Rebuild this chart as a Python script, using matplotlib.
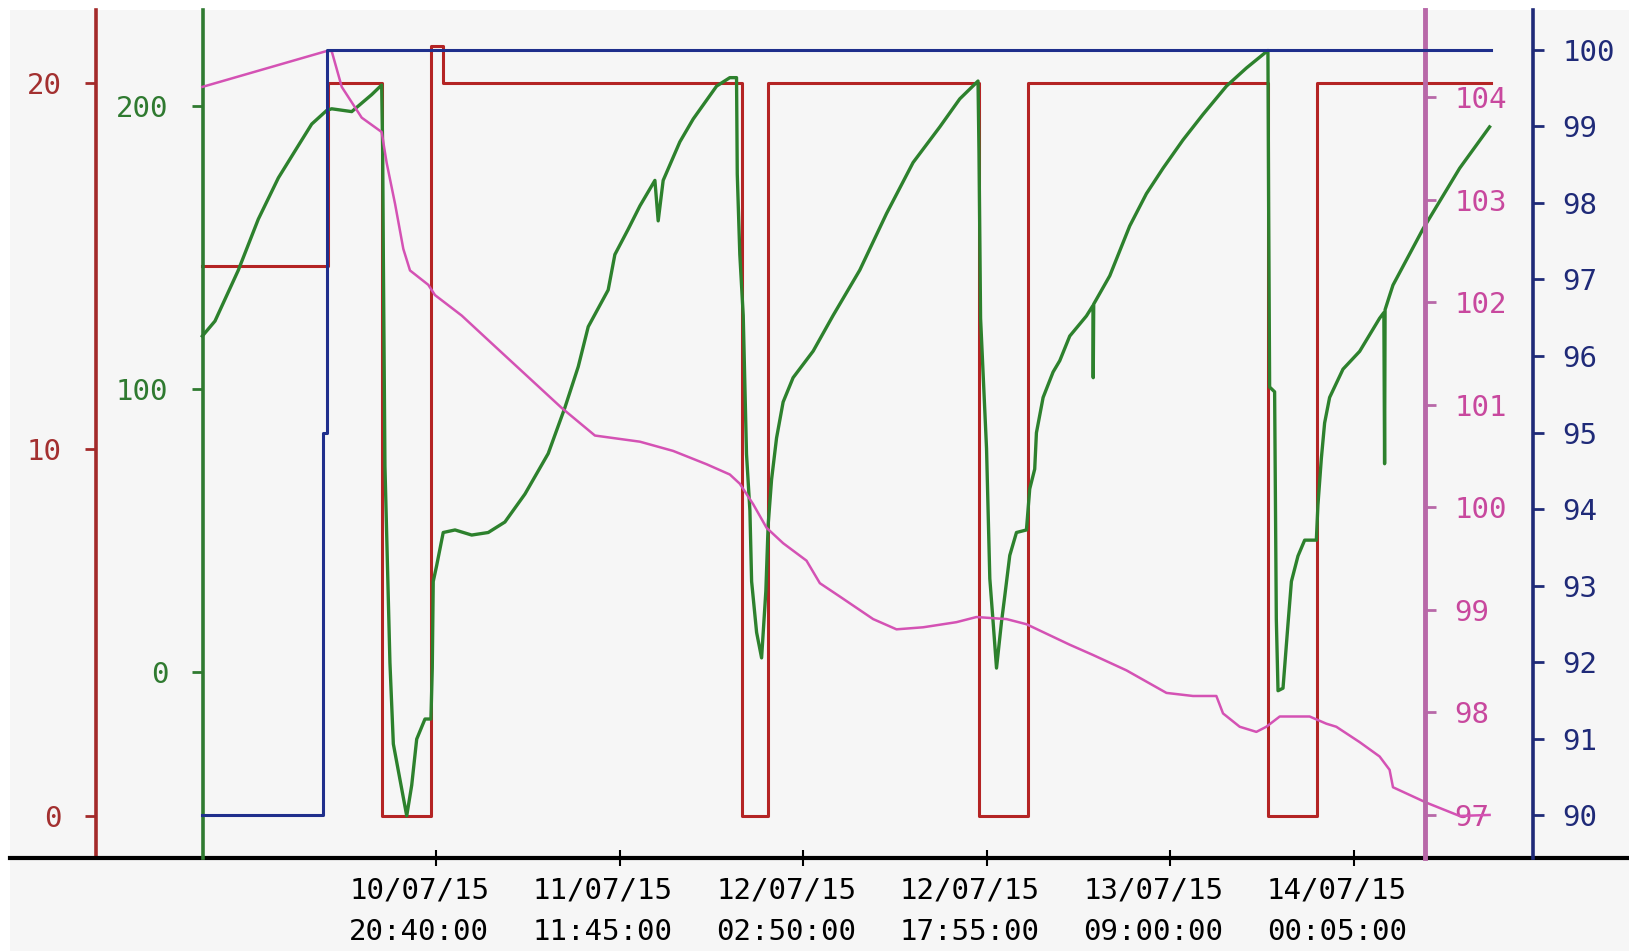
import datetime as dt

import matplotlib
matplotlib.use("Agg")
import matplotlib.pyplot as plt
import matplotlib.dates as mdates
import matplotlib.transforms as mtransforms
from matplotlib.patches import Rectangle

# hours since 10/07/2015 00:00
BASE = dt.datetime(2015, 7, 10)

# green: level
G_T = [1.43, 2.47, 4.39, 6.03, 7.68, 9.32, 10.42, 11.65, 12.06, 13.71, 15.35, 16.17,
       16.25, 16.31, 16.44, 16.85, 17.13, 18.23, 18.64, 19.05, 19.73, 20.22, 20.33,
       20.41, 20.69, 21.23, 22.20, 23.57, 24.93, 26.30, 27.95, 29.86, 31.23, 32.33,
       33.15, 34.79, 35.34, 36.44, 37.40, 38.63, 38.90, 39.31, 40.68, 41.78, 43.70,
       44.79, 45.34, 45.40, 45.61, 45.89, 46.16, 46.44, 46.58, 46.99, 47.40, 47.75,
       47.94, 48.22, 48.63, 49.17, 49.99, 51.64, 53.28, 55.47, 57.67, 59.85, 62.05,
       63.69, 65.19, 65.27, 65.40, 65.89, 66.16, 66.43, 66.71, 67.12, 67.39, 67.80,
       68.35, 69.17, 69.44, 69.85, 69.99, 70.54, 71.36, 71.91, 72.73, 74.10, 74.64,
       74.66, 74.70, 76.02, 77.66, 79.03, 80.40, 82.04, 83.68, 85.61, 87.25, 89.02,
       89.08, 89.16, 89.57, 89.71, 89.85, 90.26, 90.67, 90.95, 91.49, 92.04, 93.00,
       93.13, 93.41, 93.68, 94.09, 95.19, 96.56, 98.20, 98.55, 98.61, 98.65, 99.02,
       99.30, 101.76, 104.78, 107.24]
G_V = [118.7, 124, 142, 160, 174.6, 186, 193.6, 198.4, 199, 198, 204, 207.4,
       185.5, 145.7, 72.8, 3.3, -25.4, -50.8, -40, -23.7, -16.6, -16.6, 1.4,
       32, 37.6, 49.3, 50.2, 48.4, 49.3, 53, 62.9, 77.2, 93.4, 107.9,
       122, 135, 147.5, 156.5, 164.7, 173.7, 159.4, 173.7, 187.3, 195.4, 207,
       210, 210, 176, 147.5, 126, 77, 57, 32, 14, 5, 28.6,
       52, 68, 82.7, 95.4, 104, 113.4, 126, 142, 162, 180, 192.6,
       202.5, 208.8, 183.7, 125, 79, 33, 17.7, 1.4, 17.7, 26.9, 41.2,
       49.3, 50.2, 64.7, 71.7, 84.5, 97, 106, 110, 118.7, 125.8, 129.5,
       104, 130, 140, 157.6, 169, 178, 188, 197, 207, 213.4, 219.6,
       163.7, 100.7, 99, 18.7, -6.6, -5.7, 17, 32, 41, 46.6, 46.6,
       59, 75.4, 88, 97, 107, 113.3, 125, 127, 73.6, 128, 133,
       136.7, 156.5, 178, 192.6]

# red: on/off state (step changes)
R_T = [1.41, 11.78, 16.22, 20.22, 21.23, 45.75, 47.94, 65.28, 69.30, 89.02, 93.05, 107.32]
R_V = [15, 20, 0, 21, 20, 0, 20, 0, 20, 0, 20, 20]

# magenta: temperature-like trend
M_T = [1.43, 11.65, 12.06, 12.89, 14.53, 16.17, 16.58, 17.27, 17.95, 18.50, 20.00,
       20.55, 22.75, 25.48, 28.22, 30.96, 33.70, 37.40, 40.13, 42.88, 44.79, 45.61,
       46.71, 47.81, 49.17, 51.09, 52.19, 53.83, 56.57, 58.49, 60.68, 63.42, 65.06,
       67.53, 69.17, 72.73, 74.64, 77.39, 80.68, 82.86, 84.78, 85.33, 86.70, 88.07,
       88.89, 89.99, 92.45, 93.82, 94.64, 96.56, 98.20, 99.02, 99.30, 102.04, 104.78,
       107.24]
M_V = [104.1, 104.45, 104.45, 104.1, 103.8, 103.66, 103.36, 102.96, 102.52, 102.31,
       102.17, 102.07, 101.87, 101.57, 101.27, 100.97, 100.7, 100.64, 100.55, 100.42,
       100.32, 100.23, 100.03, 99.8, 99.65, 99.48, 99.26, 99.13, 98.91, 98.81, 98.83,
       98.88, 98.93, 98.91, 98.86, 98.66, 98.56, 98.41, 98.19, 98.16, 98.16, 97.99,
       97.86, 97.81, 97.86, 97.96, 97.96, 97.89, 97.86, 97.71, 97.57, 97.44, 97.27,
       97.12, 96.99, 97.0]

# blue: percentage (steps)
B_T = [1.41, 11.37, 11.70, 107.32]
B_V = [90, 95, 100, 100]

RED_TICKS = [0, 10, 20]
GREEN_TICKS = [0, 100, 200]
MAG_TICKS = [97, 98, 99, 100, 101, 102, 103, 104]
BLUE_TICKS = [90, 91, 92, 93, 94, 95, 96, 97, 98, 99, 100]

FIRST_TICK = dt.datetime(2015, 7, 10, 20, 40)
TICK_STEP = dt.timedelta(hours=15, minutes=5)
N_TICKS = 6

RED, RED_TXT, RED_LINE = "#a32a2a", "#a33030", "#b42424"
GREEN, GREEN_LINE = "#2f7a30", "#2d812d"
MAG, MAG_TXT, MAG_LINE = "#b868a8", "#c8489e", "#d452b4"
BLUE, BLUE_LINE = "#1f2a78", "#1f2f8c"
FONT = "DejaVu Sans Mono"
FS = 21


def times(hours):
    return [BASE + dt.timedelta(hours=h) for h in hours]


W, H = 1629, 951
fig = plt.figure(figsize=(W / 100, H / 100), dpi=100, facecolor="white")
fig.add_artist(Rectangle((10 / W, 0), 1, 1 - 10 / H, transform=fig.transFigure,
                         facecolor="#f6f6f6", edgecolor="none", zorder=-10))

ax = fig.add_axes([10 / W, (H - 858) / H, (W - 10) / W, 848 / H])
ax.set_facecolor("none")
axg = ax.twinx()
axm = ax.twinx()
axb = ax.twinx()

# data
ax.plot(times(R_T), R_V, drawstyle="steps-post", color=RED_LINE, lw=2.2)
axg.plot(times(G_T), G_V, color=GREEN_LINE, lw=2.4)
axm.plot(times(M_T), M_V, color=MAG_LINE, lw=1.8)
axb.plot(times(B_T), B_V, drawstyle="steps-post", color=BLUE_LINE, lw=2.2)

ax.set_xlim(BASE - dt.timedelta(hours=14.38), BASE + dt.timedelta(hours=118.7))
ax.set_ylim(-1.16, 21.99)
axg.set_ylim(-65.7, 233.9)
axm.set_ylim(96.58, 104.85)
axb.set_ylim(89.445, 100.516)

for a in (ax, axg, axm, axb):
    for s in a.spines.values():
        s.set_visible(False)

# x axis
ax.spines["bottom"].set_visible(True)
ax.spines["bottom"].set_color("black")
ax.spines["bottom"].set_linewidth(3)
ax.set_xticks([FIRST_TICK + i * TICK_STEP for i in range(N_TICKS)])
ax.xaxis.set_major_formatter(mdates.DateFormatter("%d/%m/%y\n%H:%M:%S"))
ax.tick_params(axis="x", direction="inout", length=11, width=1.5, pad=8,
               colors="black", labelsize=FS)
for lab in ax.get_xticklabels():
    lab.set_fontfamily(FONT)
    lab.set_linespacing(1.58)
offset = mtransforms.ScaledTranslation(-0.17, 0, fig.dpi_scale_trans)
for lab in ax.xaxis.get_majorticklabels():
    lab.set_transform(lab.get_transform() + offset)


def yaxis(a, side, pos, ticks, color, txt, lw, pad):
    sp = a.spines[side]
    sp.set_visible(True)
    sp.set_position(("axes", pos))
    sp.set_color(color)
    sp.set_linewidth(lw)
    a.yaxis.set_ticks_position(side)
    a.yaxis.set_label_position(side)
    a.set_yticks(ticks)
    a.tick_params(axis="y", direction="out", length=8, width=2, color=color,
                  labelcolor=txt, labelsize=FS, pad=pad)
    for lab in a.get_yticklabels():
        lab.set_fontfamily(FONT)


yaxis(ax, "left", 0.0534, RED_TICKS, RED, RED_TXT, 2.6, 17)
yaxis(axg, "left", 0.1192, GREEN_TICKS, GREEN, GREEN, 2.6, 17)
yaxis(axm, "right", 0.8743, MAG_TICKS, MAG, MAG_TXT, 3.5, 13)
yaxis(axb, "right", 0.9407, BLUE_TICKS, BLUE, BLUE, 2.6, 13)

fig.savefig("out.png", dpi=100, facecolor="white")
